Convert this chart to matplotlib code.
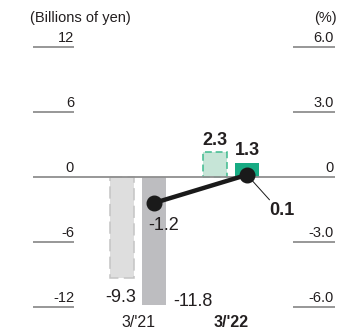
import matplotlib
matplotlib.use("Agg")
import matplotlib.pyplot as plt
from matplotlib.transforms import blended_transform_factory

plt.rcParams["font.family"] = ["Liberation Sans", "DejaVu Sans"]

# Data
categories = ["3/'21", "3/'22"]
forecast = [-9.3, 2.3]          # previous forecast (dashed bars)
results = [-11.8, 1.3]          # actual results (solid bars)
ratio = [-1.2, 0.1]             # ratio, % (right axis)
left_ticks = [12, 6, 0, -6, -12]
right_ticks = [6.0, 3.0, 0, -3.0, -6.0]
left_labels = ["12", "6", "0", "-6", "-12"]
right_labels = ["6.0", "3.0", "0", "-3.0", "-6.0"]

W, H, DPI = 363, 329, 100
PT = 72 / DPI  # points per pixel

fig = plt.figure(figsize=(W / DPI, H / DPI), dpi=DPI)
ax = fig.add_axes([33 / W, (H - 307) / H, (335 - 33) / W, (307 - 47) / H])
ax.set_ylim(-12, 12)
ax.set_xlim(-1.129, 2.118)
for s in ax.spines.values():
    s.set_visible(False)
ax.set_xticks([])
ax.set_yticks([])
ax.patch.set_alpha(0)

tick_col = "#8f8f8f"
text_col = "#231f20"
off = 0.172
bw = 0.25

dash_fc = ["#dedede", "#c6e5d7"]
dash_ec = ["#c4c4c4", "#3dbb8e"]
dash_pat = [(0, (8, 3.5)), (0, (4.5, 2.5))]
solid_fc = ["#bdbdc0", "#17ab83"]

# bars
for i in range(len(categories)):
    ax.bar(i - off, forecast[i], width=bw, color=dash_fc[i], edgecolor=dash_ec[i],
           linestyle=dash_pat[i], linewidth=1.1, zorder=2)
    ax.bar(i + off, results[i], width=bw, color=solid_fc[i], linewidth=0, zorder=2)

# tick lines and labels
tr = blended_transform_factory(ax.transAxes, ax.transData)
lx1 = (74 - 33) / 302
rx0 = (293 - 33) / 302
for v, lab in zip(left_ticks, left_labels):
    if v == 0:
        ax.plot([0, 1], [0, 0], transform=tr, color=tick_col, lw=1.3, zorder=3,
                solid_capstyle="butt")
    else:
        ax.plot([0, lx1], [v, v], transform=tr, color=tick_col, lw=1.3,
                solid_capstyle="butt", clip_on=False)
    ax.annotate(lab, xy=(lx1, v), xycoords=tr, xytext=(0, 5 * PT),
                textcoords="offset points", ha="right", va="baseline",
                fontsize=10.5, color=text_col, annotation_clip=False)

ax2 = ax.twinx()
ax2.set_ylim(-6, 6)
ax2.set_xlim(ax.get_xlim())
for s in ax2.spines.values():
    s.set_visible(False)
ax2.set_yticks([])
ax2.set_xticks([])
tr2 = blended_transform_factory(ax2.transAxes, ax2.transData)
for v, lab in zip(right_ticks, right_labels):
    if v != 0:
        ax2.plot([rx0, 1], [v, v], transform=tr2, color=tick_col, lw=1.3,
                 solid_capstyle="butt", clip_on=False)
    ax2.annotate(lab, xy=(0.997, v), xycoords=tr2, xytext=(0, 5 * PT),
                 textcoords="offset points", ha="right", va="baseline",
                 fontsize=10.5, color=text_col, annotation_clip=False)

# ratio line
xs = [i + off for i in range(len(categories))]
ax2.plot(xs, ratio, color="#1a1a1a", lw=3.2, marker="o", markersize=10.5,
         zorder=5, clip_on=False)

# headers
fig.text(30 / W, 1 - 22 / H, "(Billions of yen)", ha="left", va="baseline",
         fontsize=10.5, color=text_col)
fig.text(337 / W, 1 - 22 / H, "(%)", ha="right", va="baseline",
         fontsize=10.5, color=text_col)

# value labels
def label(axis, x, y, txt, dx, dy, ha="center", bold=False):
    axis.annotate(txt, xy=(x, y), xytext=(dx * PT, -dy * PT),
                  textcoords="offset points", ha=ha, va="baseline",
                  fontsize=13, color=text_col,
                  fontweight="bold" if bold else "normal",
                  annotation_clip=False, zorder=6)

label(ax, 0 - off, forecast[0], f"{forecast[0]:.1f}", -1, 24)
label(ax, 0 + off, results[0], f"{results[0]:.1f}", 39, 1)
label(ax, 1 - off, forecast[1], f"{forecast[1]:.1f}", 0, -7, bold=True)
label(ax, 1 + off, results[1], f"{results[1]:.1f}", 0, -8, bold=True)
label(ax2, xs[0], ratio[0], f"{ratio[0]:.1f}", -5.5, 27, ha="left")
label(ax2, xs[1], ratio[1], f"{ratio[1]:.1f}", 35, 40, bold=True)
ax2.annotate("", xy=(xs[1], ratio[1]), xytext=(22.5 * PT, -25 * PT),
             textcoords="offset points",
             arrowprops=dict(arrowstyle="-", color="#1a1a1a", lw=0.7,
                             shrinkA=0, shrinkB=0), annotation_clip=False)

# category labels
for i, c in enumerate(categories):
    ax.annotate(c, xy=(i, 0), xycoords=("data", "axes fraction"),
                xytext=(0, -20 * PT), textcoords="offset points",
                ha="center", va="baseline", fontsize=11.5, color=text_col,
                fontweight="bold" if i == 1 else "normal",
                annotation_clip=False)

fig.savefig("out.png", dpi=DPI)
